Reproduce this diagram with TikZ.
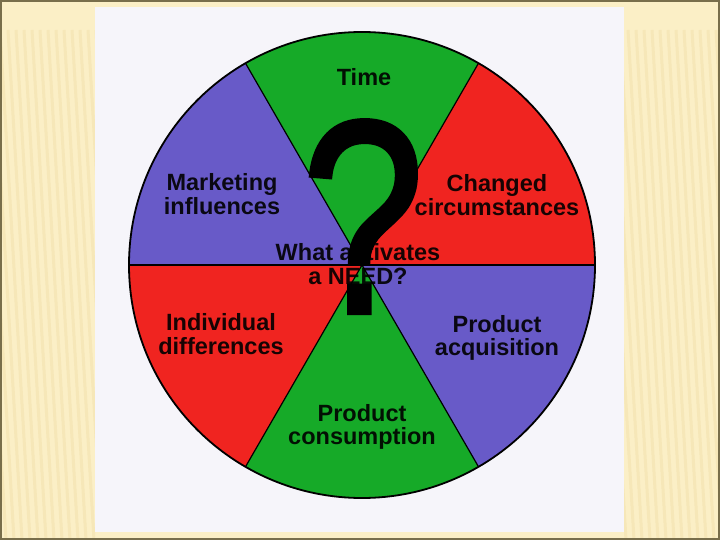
\documentclass[tikz,border=0pt]{standalone}
\usepackage{fontspec}
\setmainfont{Liberation Sans}
\newfontfamily\qfont[FakeBold=1.6]{Liberation Sans}
\definecolor{cream}{RGB}{251,239,198}
\definecolor{stripe}{RGB}{246,231,184}
\definecolor{frame}{RGB}{120,110,75}
\definecolor{panel}{RGB}{246,245,250}
\definecolor{sgreen}{RGB}{22,170,40}
\definecolor{sred}{RGB}{240,36,32}
\definecolor{sblue}{RGB}{104,90,200}
\tikzset{
  lbl/.style={font=\fontsize{23.5}{23.5}\selectfont\bfseries, align=center, inner sep=0pt, text=black, text opacity=0.9},
  qmark/.style={font=\qfont\fontsize{276}{276}\selectfont, inner sep=0pt, text=black, anchor=base},
  divider/.style={draw=black, line width=1.2pt},
  stripeline/.style={draw=stripe, line width=3pt}
}
\begin{document}
\begin{tikzpicture}[x=1pt,y=-1pt]
\useasboundingbox (0,0) rectangle (720,540);
% slide background
\fill[cream] (0,0) rectangle (720,540);
\begin{scope}
  \clip (0,30) rectangle (95,540);
  \foreach \i in {-6,...,20} \draw[stripeline] (\i*8,30) -- ++(30,510);
\end{scope}
\begin{scope}
  \clip (624,30) rectangle (720,540);
  \foreach \i in {-6,...,20} \draw[stripeline] (620+\i*8,30) -- ++(30,510);
\end{scope}
\draw[frame, line width=2pt] (1,1) rectangle (719,539);
% panel
\fill[panel] (95,7) rectangle (624,532);
% wheel
\begin{scope}[shift={(362,265)}, y=1pt]
  \fill[sred]   (0,0) -- (0:233)   arc[start angle=0,   end angle=60,  radius=233] -- cycle;
  \fill[sgreen] (0,0) -- (60:233)  arc[start angle=60,  end angle=120, radius=233] -- cycle;
  \fill[sblue]  (0,0) -- (120:233) arc[start angle=120, end angle=180, radius=233] -- cycle;
  \fill[sred]   (0,0) -- (180:233) arc[start angle=180, end angle=240, radius=233] -- cycle;
  \fill[sgreen] (0,0) -- (240:233) arc[start angle=240, end angle=300, radius=233] -- cycle;
  \fill[sblue]  (0,0) -- (300:233) arc[start angle=300, end angle=360, radius=233] -- cycle;
  \draw[divider] (180:233) -- (0:233);
  \draw[divider] (60:233) -- (240:233);
  \draw[divider] (120:233) -- (300:233);
  \draw[black, line width=1.8pt] (0,0) circle[radius=233];
\end{scope}
% question mark
\node[qmark] (q) at (363,313) {\scalebox{0.8}[1]{?}};
% labels
\node[lbl] (time) at (364,77) {Time};
\node[lbl] (mkt) at (222,194) {Marketing\\influences};
\node[lbl] (chg) at (497,195) {Changed\\circumstances};
\node[lbl] (what) at (358,264) {What activates\\a NEED?};
\node[lbl] (ind) at (221,334) {Individual\\differences};
\node[lbl] (acq) at (497,338) {Product\\acquisition};
\node[lbl] (cons) at (362,427) {Product\\consumption};
\end{tikzpicture}
\end{document}
